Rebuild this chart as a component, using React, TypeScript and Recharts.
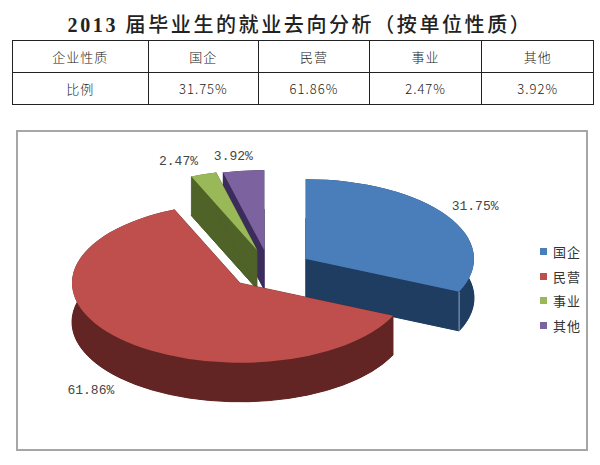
import { PieChart, Pie, Legend } from "recharts";

const categories = ["国企", "民营", "事业", "其他"];
const shares = [31.75, 61.86, 2.47, 3.92];
const topColors = ["#4a7ebb", "#be4f4c", "#99b958", "#7d62a0"];
const sideColors = ["#1f3d60", "#632523", "#4f6228", "#3b2c5c"];
const sliceShifts = [
  [36, -6],
  [-30, 18],
  [-13, -15],
  [-6, -15],
];
const labelNudges = [
  [28, -9],
  [-29, 52],
  [-25, -13],
  [-10, -14],
];
const columnWidths = [136, 111, 111, 113, 111];

const makeRow = (i: number) => ({
  name: categories[i],
  value: shares[i],
  top: topColors[i],
  side: sideColors[i],
  shift: sliceShifts[i],
  nudge: labelNudges[i],
});

// two pies so the painting order works: small slices at the back (running
// counter-clockwise from 12 o'clock), then blue and red in front of them
const backData = [3, 2].map(makeRow);
const frontData = [0, 1].map(makeRow);
const sweepOf = (rows: { value: number }[]) =>
  (rows.reduce((sum, r) => sum + r.value, 0) / 100) * 360;

const TILT = 0.475;
const DEPTH = 39;
const RAD = Math.PI / 180;

const rimPoint = (x: number, y: number, r: number, deg: number) => [
  x + r * Math.cos(deg * RAD),
  y - r * TILT * Math.sin(deg * RAD),
];

const arcTo = (r: number, p: number[], large: number) =>
  `A ${r} ${r * TILT} 0 ${large} 1 ${p[0]} ${p[1]}`;

const Slice3D = (props: any) => {
  const { cx, cy, outerRadius: r, startAngle, endAngle, top, side, shift, name } = props;
  const x = cx + shift[0];
  const y = cy + shift[1];
  const a = rimPoint(x, y, r, Math.max(startAngle, endAngle));
  const b = rimPoint(x, y, r, Math.min(startAngle, endAngle));
  const large = Math.abs(startAngle - endAngle) > 180 ? 1 : 0;
  const topPath = `M ${x} ${y} L ${a[0]} ${a[1]} ${arcTo(r, b, large)} Z`;
  const lowPath = `M ${x} ${y + DEPTH} L ${a[0]} ${a[1] + DEPTH} ${arcTo(r, [b[0], b[1] + DEPTH], large)} Z`;
  const faces = [a, b].map((p) => `M ${x} ${y} L ${p[0]} ${p[1]} L ${p[0]} ${p[1] + DEPTH} L ${x} ${y + DEPTH} Z`);
  return (
    <g>
      <path d={lowPath} fill={side} stroke={side} />
      {faces.map((d) => (
        <path key={d} d={d} fill={side} stroke={side} strokeWidth={0.5} />
      ))}
      {/* outer wall: sweep the top rim down */}
      <path
        d={`M ${a[0]} ${a[1]} ${arcTo(r, b, large)} L ${b[0]} ${b[1] + DEPTH} A ${r} ${r * TILT} 0 ${large} 0 ${a[0]} ${a[1] + DEPTH} Z`}
        fill={side}
      />
      <path d={topPath} fill={top} />
      {name === "国企" && (
        <line x1={b[0]} y1={b[1]} x2={b[0]} y2={b[1] + DEPTH} stroke="#8fa8c8" strokeWidth={1} />
      )}
    </g>
  );
};

const sliceLabel = (props: any) => {
  const { cx, cy, outerRadius: r, midAngle, payload, value } = props;
  const row = payload ?? props;
  const p = rimPoint(cx + row.shift[0], cy + row.shift[1], r, midAngle);
  return (
    <text
      x={p[0] + row.nudge[0]}
      y={p[1] + row.nudge[1]}
      textAnchor="middle"
      dominantBaseline="central"
      fontFamily="'Liberation Mono', monospace"
      fontSize={13}
      fill="#454545"
    >
      {value.toFixed(2)}%
    </text>
  );
};

const LegendList = () => (
  <div>
    {categories.map((c, i) => (
      <div key={c} style={{ display: "flex", alignItems: "center", height: 24.7 }}>
        <span style={{ width: 7, height: 7, background: topColors[i], marginRight: 6 }} />
        <span style={{ fontFamily: "'Noto Sans CJK SC'", fontSize: 13, color: "#333", letterSpacing: 1 }}>{c}</span>
      </div>
    ))}
  </div>
);

const cell = (w: number, right: boolean): React.CSSProperties => ({
  width: w,
  boxSizing: "border-box",
  borderRight: right ? "1.5px solid #222" : "none",
  display: "flex",
  alignItems: "center",
  justifyContent: "center",
  fontFamily: "'Noto Sans CJK SC'",
  fontSize: 13,
  fontWeight: 300,
  color: "#222",
  letterSpacing: 1,
});

const TableRow = ({ head, cells, last }: { head: string; cells: string[]; last: boolean }) => (
  <div style={{ display: "flex", height: 31, borderBottom: last ? "none" : "1.5px solid #222" }}>
    {[head, ...cells].map((t, i) => (
      <div key={t} style={cell(columnWidths[i], i < cells.length)}>
        {t}
      </div>
    ))}
  </div>
);

export default function App() {
  return (
    <div style={{ position: "absolute", left: 0, top: 0, width: 600, height: 465, background: "#fff", overflow: "hidden" }}>
      <div
        style={{
          position: "absolute",
          left: 0,
          width: 600,
          top: 9,
          textAlign: "center",
          fontFamily: "'Liberation Serif', 'Noto Sans CJK SC'",
          fontSize: 20,
          fontWeight: 500,
          letterSpacing: 2.6,
          color: "#222",
          whiteSpace: "nowrap",
        }}
      >
        <span style={{ fontWeight: 700 }}>2013</span> 届毕业生的就业去向分析（按单位性质）
      </div>
      <div style={{ position: "absolute", left: 12, top: 40, width: 582, border: "1.5px solid #222", boxSizing: "border-box" }}>
        <TableRow head="企业性质" cells={categories} last={false} />
        <TableRow head="比例" cells={shares.map((s) => `${s.toFixed(2)}%`)} last />
      </div>
      <div style={{ position: "absolute", left: 16, top: 130, width: 572, height: 321, border: "2px solid #a6a6a6", boxSizing: "border-box" }} />
      <div style={{ position: "absolute", left: 0, top: 0 }}>
        <PieChart width={600} height={465} margin={{ top: 0, right: 0, bottom: 0, left: 0 }}>
          <Pie
            data={backData}
            dataKey="value"
            nameKey="name"
            cx={270}
            cy={265}
            outerRadius={168}
            startAngle={90}
            endAngle={90 + sweepOf(backData)}
            stroke="none"
            shape={Slice3D}
            label={sliceLabel}
            labelLine={false}
            isAnimationActive={false}
          />
          <Pie
            data={frontData}
            dataKey="value"
            nameKey="name"
            cx={270}
            cy={265}
            outerRadius={168}
            startAngle={90}
            endAngle={90 - sweepOf(frontData)}
            stroke="none"
            shape={Slice3D}
            label={sliceLabel}
            labelLine={false}
            isAnimationActive={false}
          />
          <Legend content={<LegendList />} wrapperStyle={{ left: 540, top: 239, width: 50, bottom: "auto" }} />
        </PieChart>
      </div>
    </div>
  );
}
